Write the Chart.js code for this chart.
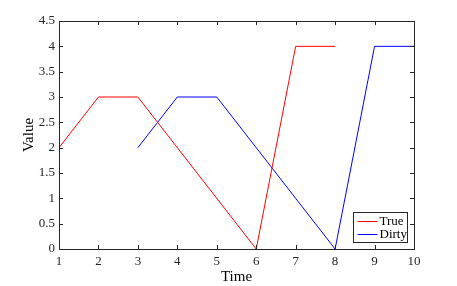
<!DOCTYPE html>
<html>
<head>
<meta charset="utf-8">
<script src="https://cdn.jsdelivr.net/npm/chart.js@4"></script>
<style>
  html, body { margin: 0; padding: 0; background: #fff; }
  #wrap { width: 457px; height: 286px; }
</style>
</head>
<body>
<div id="wrap"><canvas id="c"></canvas></div>
<script>
const trueX = [1, 2, 3, 6, 7, 8];
const trueY = [2, 3, 3, 0, 4, 4];
const dirtyX = [3, 4, 5, 8, 9, 10];
const dirtyY = [2, 3, 3, 0, 4, 4];
const xTicks = [1, 2, 3, 4, 5, 6, 7, 8, 9, 10];
const yTicks = [0, 0.5, 1, 1.5, 2, 2.5, 3, 3.5, 4, 4.5];

const FONT = "'Liberation Serif', 'Times New Roman', serif";
const toPts = (xs, ys) => xs.map((x, i) => ({ x, y: ys[i] }));

// box, inward ticks and legend in MATLAB style
const matlabAxes = {
    id: "matlabAxes",
    afterDatasetsDraw(chart) {
        const { ctx, chartArea: a, scales } = chart;
        ctx.save();
        ctx.strokeStyle = "#262626";
        ctx.lineWidth = 1;
        ctx.beginPath();
        xTicks.forEach((v) => {
            const px = Math.round(scales.x.getPixelForValue(v)) + 0.5;
            ctx.moveTo(px, a.bottom); ctx.lineTo(px, a.bottom - 4);
            ctx.moveTo(px, a.top); ctx.lineTo(px, a.top + 4);
        });
        yTicks.forEach((v) => {
            const py = Math.round(scales.y.getPixelForValue(v)) + 0.5;
            ctx.moveTo(a.left, py); ctx.lineTo(a.left + 4, py);
            ctx.moveTo(a.right, py); ctx.lineTo(a.right - 4, py);
        });
        ctx.stroke();
        ctx.strokeRect(Math.round(a.left) + 0.5, Math.round(a.top) + 0.5,
            Math.round(a.right - a.left), Math.round(a.bottom - a.top));

        // legend
        const lx = 353.5, ly = 212.5, lw = 54, lh = 30;
        ctx.fillStyle = "#fff";
        ctx.fillRect(lx, ly, lw, lh);
        ctx.strokeStyle = "#262626";
        ctx.strokeRect(lx, ly, lw, lh);
        ctx.font = "13px " + FONT;
        ctx.textBaseline = "middle";
        chart.data.datasets.forEach((ds, i) => {
            const y = ly + 9 + i * 13;
            ctx.strokeStyle = ds.borderColor;
            ctx.beginPath();
            ctx.moveTo(lx + 4, y); ctx.lineTo(lx + 24, y);
            ctx.stroke();
            ctx.fillStyle = "#000";
            ctx.fillText(ds.label, lx + 26, y);
        });
        ctx.restore();
    },
};

new Chart(document.getElementById("c"), {
    type: "line",
    data: {
        datasets: [
            { label: "True", data: toPts(trueX, trueY), borderColor: "#ff0000", borderWidth: 1, pointRadius: 0, fill: false, tension: 0 },
            { label: "Dirty", data: toPts(dirtyX, dirtyY), borderColor: "#0000ff", borderWidth: 1, pointRadius: 0, fill: false, tension: 0 },
        ],
    },
    options: {
        responsive: true,
        maintainAspectRatio: false,
        animation: false,
        layout: { padding: { left: 20, right: 43, top: 21, bottom: 0 } },
        plugins: { legend: { display: false }, tooltip: { enabled: false } },
        scales: {
            x: {
                type: "linear",
                min: 1,
                max: 10,
                afterBuildTicks: (s) => { s.ticks = xTicks.map((v) => ({ value: v })); },
                afterFit: (s) => { s.height = 37; },
                grid: { display: false, drawTicks: false },
                border: { display: false },
                ticks: { color: "#262626", font: { family: FONT, size: 13 }, padding: 5, maxRotation: 0 },
                title: { display: true, text: "Time", color: "#000", font: { family: FONT, size: 15 }, padding: { top: 0, bottom: 0 } },
            },
            y: {
                type: "linear",
                min: 0,
                max: 4.5,
                afterBuildTicks: (s) => { s.ticks = yTicks.map((v) => ({ value: v })); },
                afterFit: (s) => { s.width = 39; },
                grid: { display: false, drawTicks: false },
                border: { display: false },
                ticks: { color: "#262626", font: { family: FONT, size: 13 }, padding: 4, callback: (v) => String(v) },
                title: { display: true, text: "Value", color: "#000", font: { family: FONT, size: 15 }, padding: { top: 0, bottom: 0 } },
            },
        },
    },
    plugins: [matlabAxes],
});
</script>
</body>
</html>
